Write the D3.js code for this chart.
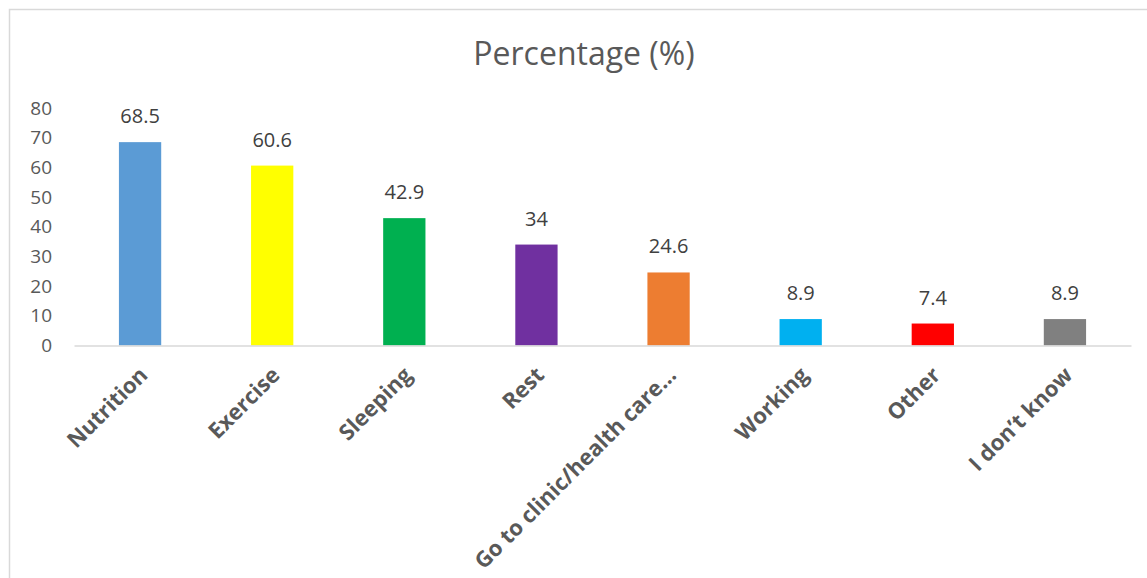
<!DOCTYPE html>
<html>
<head>
<meta charset="utf-8">
<script src="https://cdn.jsdelivr.net/npm/d3@7"></script>
<style>
  html, body { margin: 0; padding: 0; background: #fff; }
  svg { display: block; }
</style>
</head>
<body>
<svg id="chart" width="1147" height="578"></svg>
<script>
const categories = ["Nutrition", "Exercise", "Sleeping", "Rest", "Go to clinic/health care\u2026", "Working", "Other", "I don\u2019t know"];
const values = [68.5, 60.6, 42.9, 34, 24.6, 8.9, 7.4, 8.9];
const colors = ["#5B9BD5", "#FFFF00", "#00B050", "#7030A0", "#ED7D31", "#00B0F0", "#FF0000", "#808080"];
const yTicks = [0, 10, 20, 30, 40, 50, 60, 70, 80];
const title = "Percentage (%)";

const svg = d3.select("#chart");
const W = 1147, H = 578;

// chart border
svg.append("rect")
  .attr("x", 9.5).attr("y", 9.5)
  .attr("width", W + 10).attr("height", H + 10)
  .attr("fill", "#fff").attr("stroke", "#d9d9d9").attr("stroke-width", 1.5);

const x = d3.scaleBand().domain(categories).range([74, 1131]).paddingInner(0.68).paddingOuter(0.34);
const y = d3.scaleLinear().domain([0, 80]).range([345.5, 108]);

// title
svg.append("text")
  .attr("x", 584).attr("y", 65)
  .attr("text-anchor", "middle")
  .attr("font-family", "'Open Sans', sans-serif")
  .attr("font-size", 32)
  .attr("fill", "#595959")
  .text(title);

// y axis labels
const yAxis = d3.axisLeft(y).tickValues(yTicks).tickSize(0).tickPadding(0);
const yg = svg.append("g").attr("transform", "translate(52,0)").call(yAxis);
yg.select(".domain").remove();
yg.selectAll("text")
  .attr("font-family", "'Open Sans', sans-serif")
  .attr("font-size", 19)
  .attr("fill", "#595959");

// bars
svg.append("g").selectAll("rect")
  .data(values)
  .join("rect")
  .attr("x", (d, i) => x(categories[i]))
  .attr("y", d => y(d))
  .attr("width", x.bandwidth())
  .attr("height", d => y(0) - y(d))
  .attr("fill", (d, i) => colors[i]);

// x axis line
const xAxis = d3.axisBottom(x).tickSize(0).tickPadding(0);
const xg = svg.append("g").attr("transform", `translate(0,${y(0)})`).call(xAxis);
xg.select(".domain").attr("stroke", "#d9d9d9").attr("stroke-width", 1.5);
xg.selectAll(".tick text")
  .attr("font-family", "'Open Sans', sans-serif")
  .attr("font-weight", "bold")
  .attr("font-size", 22)
  .attr("fill", "#595959")
  .attr("text-anchor", "end")
  .attr("dy", null)
  .attr("y", 0)
  .attr("transform", "translate(9,31) rotate(-45)");

// data labels
svg.append("g").selectAll("text")
  .data(values)
  .join("text")
  .attr("x", (d, i) => x(categories[i]) + x.bandwidth() / 2)
  .attr("y", d => y(d) - 19)
  .attr("text-anchor", "middle")
  .attr("font-family", "'Open Sans', sans-serif")
  .attr("font-size", 20)
  .attr("fill", "#404040")
  .text(d => d);
</script>
</body>
</html>
